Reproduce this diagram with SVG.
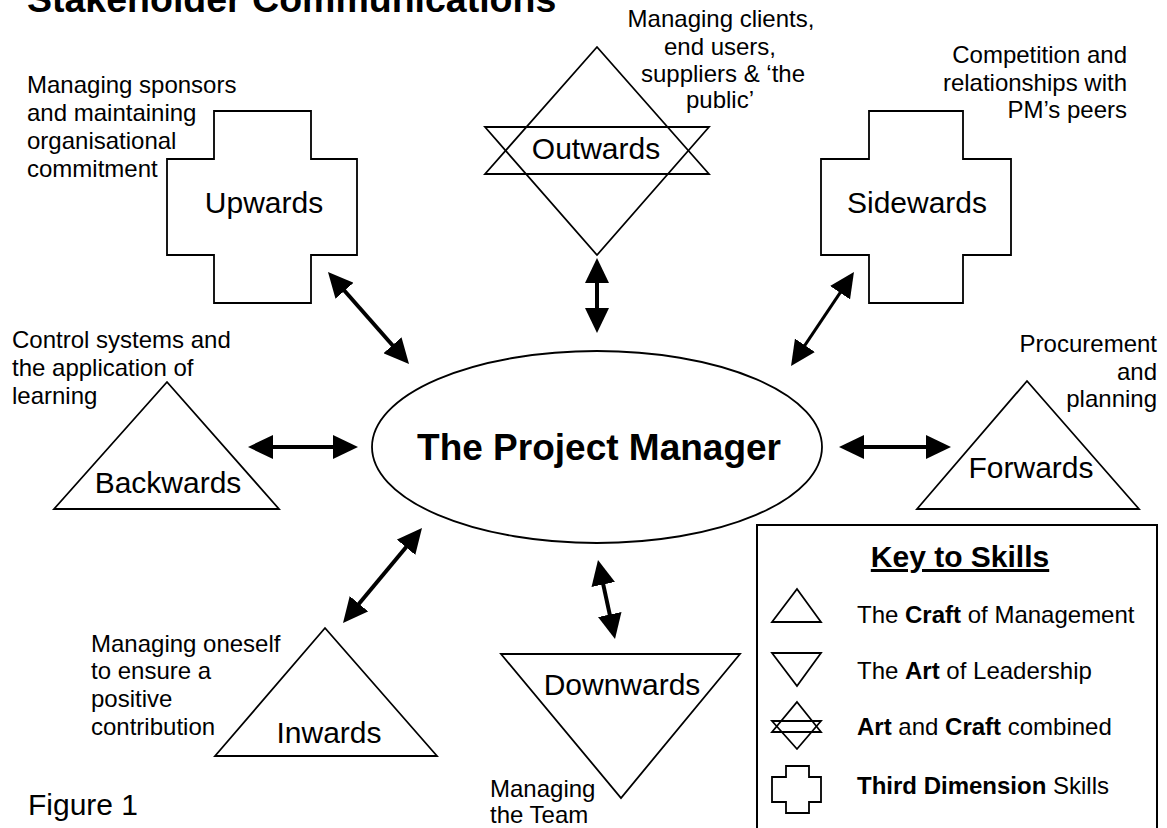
<svg xmlns="http://www.w3.org/2000/svg" width="1167" height="828" viewBox="0 0 1167 828">
<defs>
<style>
text{font-family:"Liberation Sans",Arial,sans-serif;fill:#000}
.shape{fill:#fff;stroke:#000;stroke-width:1.8;stroke-linejoin:miter}
.thin{fill:none;stroke:#000;stroke-width:1.8}
.lbl{font-size:30px;text-anchor:middle}
.desc{font-size:24px}
.r{text-anchor:end}
.c{text-anchor:middle}
.key{font-size:24px}
.arr{stroke:#000;stroke-width:4;fill:none;marker-start:url(#ah);marker-end:url(#ah)}
</style>
<marker id="ah" viewBox="0 -12 25 24" refX="15" refY="0" markerWidth="25" markerHeight="24" markerUnits="userSpaceOnUse" orient="auto-start-reverse">
<path d="M0,-12 L25,0 L0,12 z" fill="#000"/>
</marker>
</defs>
<rect width="1167" height="828" fill="#fff"/>

<text x="27" y="12" font-size="37.5" font-weight="bold">Stakeholder Communications</text>

<g id="upwards">
<path class="shape" d="M214,111 H311 V159 H357 V255 H311 V303 H214 V255 H167 V159 H214 Z"/>
<text class="lbl" x="264" y="213">Upwards</text>
<text class="desc" x="27" y="93">Managing sponsors</text>
<text class="desc" x="27" y="121">and maintaining</text>
<text class="desc" x="27" y="149">organisational</text>
<text class="desc" x="27" y="177">commitment</text>
</g>

<g id="outwards">
<path class="thin" d="M597,47 L709,174 L485,174 Z"/>
<path class="thin" d="M485,127 L709,127 L597,255 Z"/>
<text class="lbl" x="596" y="159">Outwards</text>
<text class="desc c" x="721" y="27">Managing clients,</text>
<text class="desc c" x="720" y="55">end users,</text>
<text class="desc c" x="723" y="82">suppliers &amp; ‘the</text>
<text class="desc c" x="720" y="108">public’</text>
</g>

<g id="sidewards">
<path class="shape" d="M869,111 H963 V159 H1011 V255 H963 V303 H869 V255 H821 V159 H869 Z"/>
<text class="lbl" x="917" y="213">Sidewards</text>
<text class="desc r" x="1127" y="63">Competition and</text>
<text class="desc r" x="1127" y="91">relationships with</text>
<text class="desc r" x="1127" y="118">PM’s peers</text>
</g>

<g id="backwards">
<path class="shape" d="M167,382 L279,509 L54,509 Z"/>
<text class="lbl" x="168" y="493">Backwards</text>
<text class="desc" x="12" y="348">Control systems and</text>
<text class="desc" x="12" y="376">the application of</text>
<text class="desc" x="12" y="404">learning</text>
</g>

<g id="project-manager">
<ellipse class="shape" cx="597" cy="447" rx="225" ry="96"/>
<text x="599" y="460" font-size="37" font-weight="bold" text-anchor="middle">The Project Manager</text>
</g>

<g id="forwards">
<path class="shape" d="M1027,381 L1139,509 L917,509 Z"/>
<text class="lbl" x="1031" y="478">Forwards</text>
<text class="desc r" x="1157" y="352">Procurement</text>
<text class="desc r" x="1157" y="380">and</text>
<text class="desc r" x="1157" y="407">planning</text>
</g>

<g id="inwards">
<path class="shape" d="M325,628 L437,756 L215,756 Z"/>
<text class="lbl" x="329" y="743">Inwards</text>
<text class="desc" x="91" y="652">Managing oneself</text>
<text class="desc" x="91" y="679">to ensure a</text>
<text class="desc" x="91" y="707">positive</text>
<text class="desc" x="91" y="735">contribution</text>
</g>

<g id="downwards">
<path class="shape" d="M501,654 L740,654 L621,798 Z"/>
<text class="lbl" x="622" y="695">Downwards</text>
<text class="desc" x="490" y="797">Managing</text>
<text class="desc" x="490" y="823">the Team</text>
</g>

<g id="connectors">
<line class="arr" x1="258" y1="447" x2="348" y2="447"/>
<line class="arr" x1="849" y1="447" x2="941" y2="447"/>
<line class="arr" x1="597" y1="268" x2="597" y2="323"/>
<line class="arr" x1="334.6" y1="279.5" x2="402.4" y2="356.5"/>
<line class="arr" x1="848.4" y1="280.3" x2="796.6" y2="357.7" style="stroke-width:3"/>
<line class="arr" x1="415.6" y1="535.7" x2="349.4" y2="615.3"/>
<line class="arr" x1="600.1" y1="569.8" x2="612.9" y2="629.2"/>
</g>

<text x="28" y="815" font-size="30">Figure 1</text>

<g id="key">
<rect x="757" y="525" width="400" height="310" fill="#fff" stroke="#000" stroke-width="2"/>
<text x="960" y="567" font-size="30" font-weight="bold" text-anchor="middle" text-decoration="underline">Key to Skills</text>
<path class="thin" d="M797,589 L821,622 L772,622 Z"/>
<path class="thin" d="M772,653 L821,653 L797,686 Z"/>
<path class="thin" d="M797,702 L821,732 L772,732 Z"/>
<path class="thin" d="M772,721 L821,721 L797,749 Z"/>
<path class="thin" d="M786,766 H809 V777 H821 V802 H809 V813 H786 V802 H772 V777 H786 Z"/>
<text class="key" x="857" y="623">The <tspan font-weight="bold">Craft</tspan> of Management</text>
<text class="key" x="857" y="679">The <tspan font-weight="bold">Art</tspan> of Leadership</text>
<text class="key" x="857" y="735"><tspan font-weight="bold">Art</tspan> and <tspan font-weight="bold">Craft</tspan> combined</text>
<text class="key" x="857" y="794"><tspan font-weight="bold">Third Dimension</tspan> Skills</text>
</g>
</svg>
